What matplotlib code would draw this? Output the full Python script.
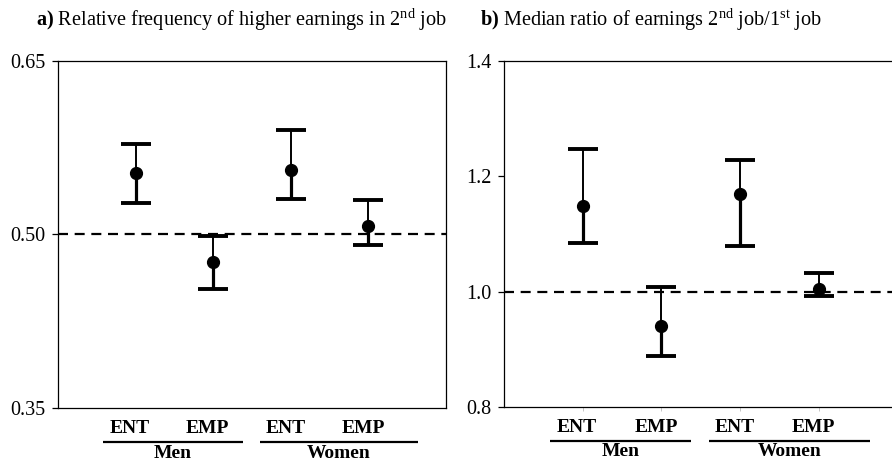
import matplotlib
matplotlib.use('Agg')
import matplotlib.pyplot as plt


categories = ['ENT', 'EMP', 'ENT', 'EMP']
groups = ['Men', 'Women']

freq_mean = [0.553, 0.476, 0.556, 0.507]
freq_low = [0.527, 0.453, 0.531, 0.491]
freq_high = [0.578, 0.499, 0.590, 0.530]

ratio_mean = [1.149, 0.940, 1.169, 1.004]
ratio_low = [1.084, 0.888, 1.079, 0.992]
ratio_high = [1.247, 1.008, 1.228, 1.032]

freq_ticks = [0.35, 0.50, 0.65]
ratio_ticks = [0.8, 1.0, 1.2, 1.4]


def plotting_config():
    plt.rcParams.update({
        'font.family': 'Liberation Serif',
        'mathtext.fontset': 'custom',
        'mathtext.rm': 'Liberation Serif',
        'mathtext.bf': 'Liberation Serif:bold',
        'mathtext.it': 'Liberation Serif:italic',
        'font.size': 14,
        'axes.linewidth': 0.9,
        'ytick.major.size': 4,
        'ytick.major.width': 0.9,
        'ytick.major.pad': 5,
        'ytick.labelsize': 14.5,
    })


def draw_panel(ax, mean, low, high, ref, ticks, fmt):
    x = list(range(1, len(mean) + 1))
    # thin upper whisker, thicker lower whisker (as in the original)
    ax.vlines(x, mean, high, color='k', lw=1.4, zorder=3)
    ax.vlines(x, low, mean, color='k', lw=2.3, zorder=3)
    yerr = [[m - l for m, l in zip(mean, low)], [h - m for m, h in zip(mean, high)]]
    ax.errorbar(x, mean, yerr=yerr, fmt='o', color='k', ms=8.5,
                elinewidth=0, capsize=10.5, capthick=2.8, zorder=4)
    ax.axhline(ref, color='k', lw=1.6, dashes=(4.5, 3), zorder=2)
    ax.set_xlim(0, 5)
    ax.set_ylim(ticks[0], ticks[-1])
    ax.set_yticks(ticks)
    ax.set_yticklabels([fmt.format(t) for t in ticks])
    ax.set_xticks([])
    tr = ax.get_xaxis_transform()
    for xi, lab in zip(x, categories):
        ax.text(xi - 0.07, -0.058, lab, transform=tr, ha='center', va='center',
                fontsize=14, fontweight='bold')
    for (a, b), g in zip([(0.58, 2.38), (2.6, 4.64)], groups):
        ax.plot([a, b], [-0.098, -0.098], transform=tr, color='k', lw=1.6,
                clip_on=False, solid_capstyle='butt')
        ax.text((a + b) / 2, -0.13, g, transform=tr, ha='center', va='center',
                fontsize=14, fontweight='bold')


def main():
    plotting_config()
    fig = plt.figure(figsize=(8.92, 4.63), dpi=100)
    ax1 = fig.add_axes([0.0650, 0.1188, 0.435, 0.7495])
    ax2 = fig.add_axes([0.5649, 0.1210, 0.4417, 0.7473])

    draw_panel(ax1, freq_mean, freq_low, freq_high, 0.50, freq_ticks, '{:.2f}')
    draw_panel(ax2, ratio_mean, ratio_low, ratio_high, 1.0, ratio_ticks, '{:.1f}')

    # faint category ticks on the right panel
    ax2.set_xticks([1, 2, 3, 4])
    ax2.set_xticklabels([])
    ax2.tick_params(axis='x', length=3, width=0.6, color='#bbbbbb')

    fig.text(0.0404, 0.958, r'$\bf{a)}$ Relative frequency of higher earnings in 2$^{\rm nd}$ job',
             fontsize=14.6, va='center', ha='left')
    fig.text(0.538, 0.958, r'$\bf{b)}$ Median ratio of earnings 2$^{\rm nd}$ job/1$^{\rm st}$ job',
             fontsize=14.6, va='center', ha='left')

    fig.savefig('out.png', dpi=100)


if __name__ == "__main__":
    main()
